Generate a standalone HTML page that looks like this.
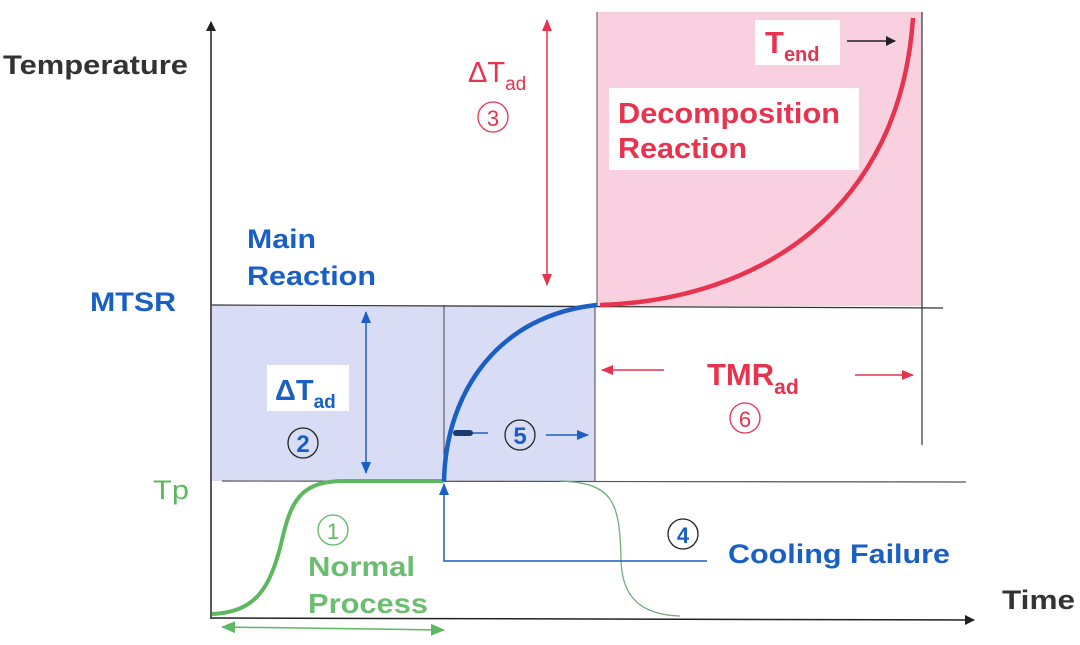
<!DOCTYPE html>
<html><head><meta charset="utf-8"><style>
html,body{margin:0;padding:0;background:#fff;}
svg{display:block;font-family:"Liberation Sans",Arial,sans-serif;font-weight:bold;}
</style></head><body>
<svg width="1080" height="645" viewBox="0 0 1080 645" xmlns="http://www.w3.org/2000/svg">
<defs>
<marker id="ak" markerWidth="10" markerHeight="10" refX="9" refY="5" orient="auto" markerUnits="userSpaceOnUse"><path d="M0,0 L10,5 L0,10 z" fill="#222"/></marker>
<marker id="ab" markerWidth="12" markerHeight="12" refX="11" refY="6" orient="auto-start-reverse" markerUnits="userSpaceOnUse"><path d="M0,1 L12,6 L0,11 z" fill="#1a5fc4"/></marker>
<marker id="ar" markerWidth="12" markerHeight="12" refX="11" refY="6" orient="auto-start-reverse" markerUnits="userSpaceOnUse"><path d="M0,1 L12,6 L0,11 z" fill="#e8334f"/></marker>
<marker id="ag" markerWidth="14" markerHeight="12" refX="13" refY="6" orient="auto-start-reverse" markerUnits="userSpaceOnUse"><path d="M0,0 L14,6 L0,12 z" fill="#5db861"/></marker>
</defs>
<rect x="212" y="305" width="383" height="176" fill="#d8dcf4"/>
<rect x="597" y="12" width="325" height="294" fill="#f9d0df"/>
<line x1="211" y1="619" x2="211" y2="22" stroke="#222" stroke-width="1.5" marker-end="url(#ak)"/>
<line x1="211" y1="618" x2="974" y2="620" stroke="#222" stroke-width="1.5" marker-end="url(#ak)"/>
<line x1="212" y1="305" x2="943" y2="308" stroke="#333" stroke-width="1.2"/>
<line x1="222" y1="481" x2="966" y2="482" stroke="#555" stroke-width="1.2"/>
<line x1="444" y1="305" x2="444" y2="481" stroke="#444" stroke-width="1"/>
<line x1="595" y1="305" x2="595" y2="481" stroke="#444" stroke-width="1"/>
<line x1="597" y1="12" x2="597" y2="306" stroke="#555" stroke-width="1"/>
<line x1="922" y1="12" x2="922" y2="445" stroke="#333" stroke-width="1.2"/>
<rect x="267" y="365" width="82" height="46" fill="#fff"/>
<rect x="755" y="20" width="85" height="45" fill="#fff"/>
<rect x="609" y="88" width="250" height="82" fill="#fff"/>
<path d="M212,614 C255,612 270,590 282,540 C292,495 305,481 345,481 L444,481" fill="none" stroke="#5db861" stroke-width="4"/>
<path d="M560,481 C612,483 620,500 621,560 C622,605 650,615 680,616" fill="none" stroke="#6aa874" stroke-width="1.2"/>
<line x1="222" y1="627" x2="444" y2="630" stroke="#5db861" stroke-width="1.5" marker-start="url(#ag)" marker-end="url(#ag)"/>
<path d="M444,560 L444,561 L707,561" fill="none" stroke="#1a5fc4" stroke-width="1.5"/>
<line x1="444" y1="561" x2="444" y2="484" stroke="#1a5fc4" stroke-width="1.5" marker-end="url(#ab)"/>
<path d="M444,481 C446,390 500,315 597,305" fill="none" stroke="#1a5fc4" stroke-width="4.5"/>
<path d="M600,305 C760,300 900,210 913,18" fill="none" stroke="#e8334f" stroke-width="4.5"/>
<line x1="366" y1="312" x2="366" y2="473" stroke="#1a5fc4" stroke-width="1.5" marker-start="url(#ab)" marker-end="url(#ab)"/>
<line x1="547" y1="20" x2="547" y2="285" stroke="#e8334f" stroke-width="1.5" marker-start="url(#ar)" marker-end="url(#ar)"/>
<line x1="455" y1="433" x2="488" y2="433" stroke="#1a5fc4" stroke-width="1.5"/>
<rect x="453" y="430" width="20" height="6" rx="3" fill="#1a3a70"/>
<line x1="546" y1="435" x2="588" y2="435" stroke="#1a5fc4" stroke-width="1.5" marker-end="url(#ab)"/>
<line x1="664" y1="370" x2="602" y2="370" stroke="#e8334f" stroke-width="1.5" marker-end="url(#ar)"/>
<line x1="855" y1="375" x2="913" y2="375" stroke="#e8334f" stroke-width="1.5" marker-end="url(#ar)"/>
<line x1="847" y1="41" x2="895" y2="41" stroke="#222" stroke-width="1.5" marker-end="url(#ak)"/>
<circle cx="303" cy="443" r="15" fill="none" stroke="#222" stroke-width="1.3"/>
<text x="303" y="452" font-size="24" fill="#1a5fc4" text-anchor="middle">2</text>
<circle cx="520" cy="435" r="15" fill="none" stroke="#222" stroke-width="1.3"/>
<text x="520" y="444" font-size="24" fill="#1a5fc4" text-anchor="middle">5</text>
<circle cx="683" cy="534" r="15" fill="none" stroke="#222" stroke-width="1.3"/>
<text x="683" y="543" font-size="22" fill="#1a5fc4" text-anchor="middle">4</text>
<circle cx="333" cy="530" r="15" fill="none" stroke="#5db861" stroke-width="1.3"/>
<text x="333" y="539" font-size="22" fill="#5db861" text-anchor="middle" font-weight="normal">1</text>
<circle cx="493" cy="117" r="15" fill="none" stroke="#e8334f" stroke-width="1.3"/>
<text x="493" y="126" font-size="22" fill="#e8334f" text-anchor="middle" font-weight="normal">3</text>
<circle cx="745" cy="418" r="15" fill="none" stroke="#e8334f" stroke-width="1.3"/>
<text x="745" y="427" font-size="22" fill="#e8334f" text-anchor="middle" font-weight="normal">6</text>
<text x="3" y="74" font-size="27" fill="#333" textLength="185" lengthAdjust="spacingAndGlyphs">Temperature</text>
<text x="1002" y="609" font-size="27" fill="#333" textLength="73" lengthAdjust="spacingAndGlyphs">Time</text>
<text x="90" y="311" font-size="27" fill="#1a5fc4" textLength="86" lengthAdjust="spacingAndGlyphs">MTSR</text>
<text x="153" y="499" font-size="27" fill="#5db861" font-weight="normal" textLength="36" lengthAdjust="spacingAndGlyphs">Tp</text>
<text x="247" y="248" font-size="27" fill="#1a5fc4" textLength="69" lengthAdjust="spacingAndGlyphs">Main</text>
<text x="247" y="285" font-size="27" fill="#1a5fc4" textLength="129" lengthAdjust="spacingAndGlyphs">Reaction</text>
<text x="275" y="400" font-size="29" fill="#1a5fc4">ΔT<tspan font-size="19" dy="8">ad</tspan></text>
<text x="468" y="82" font-size="29" fill="#e8334f" font-weight="normal">ΔT<tspan font-size="19" dy="8">ad</tspan></text>
<text x="765" y="53" font-size="31" fill="#e8334f">T<tspan font-size="20" dy="8">end</tspan></text>
<text x="618" y="123" font-size="29" fill="#e8334f" textLength="222" lengthAdjust="spacingAndGlyphs">Decomposition</text>
<text x="618" y="158" font-size="29" fill="#e8334f" textLength="129" lengthAdjust="spacingAndGlyphs">Reaction</text>
<text x="707" y="385" font-size="31" fill="#e8334f">TMR<tspan font-size="21" dy="9">ad</tspan></text>
<text x="728" y="563" font-size="27" fill="#1a5fc4" textLength="222" lengthAdjust="spacingAndGlyphs">Cooling Failure</text>
<text x="308" y="576" font-size="28" fill="#6bbd70" textLength="107" lengthAdjust="spacingAndGlyphs">Normal</text>
<text x="308" y="613" font-size="28" fill="#6bbd70" textLength="120" lengthAdjust="spacingAndGlyphs">Process</text>
</svg>
</body></html>
